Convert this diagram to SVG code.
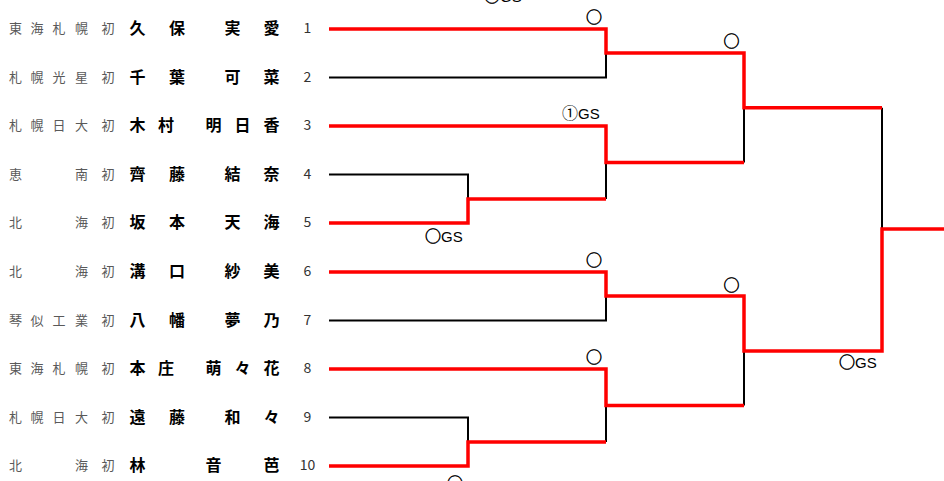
<svg xmlns="http://www.w3.org/2000/svg" width="944" height="481" viewBox="0 0 944 481">
<style>
.sc{font-family:"Noto Sans CJK JP",sans-serif;font-size:13px;fill:#595959;text-anchor:middle}
.nm{font-family:"Noto Sans CJK JP",sans-serif;font-size:16px;font-weight:bold;fill:#000;text-anchor:middle}
.no{font-family:"Noto Sans CJK JP",sans-serif;font-size:14px;fill:#333;text-anchor:middle}
.lb{font-family:"Noto Sans CJK JP",sans-serif;font-size:16px;fill:#000}
.ci{stroke:#000;stroke-width:0.5}
.gs{font-family:"Liberation Sans",sans-serif;font-size:15px}
.bk{fill:none;stroke:#000;stroke-width:2}
.rd{fill:none;stroke:#ff0000;stroke-width:3.5}
</style>
<rect width="944" height="481" fill="#fff"/>
<g id="p1"><text class="sc" x="15.5 37 59 81.5 108" y="33">東海札幌初</text><text class="nm" x="137.5 177 232.5 271.5" y="34">久保実愛</text><text class="no" x="307.5" y="33">1</text></g>
<g id="p2"><text class="sc" x="15.5 37 59 81.5 108" y="81.5">札幌光星初</text><text class="nm" x="137.5 177 232.5 271.5" y="82.5">千葉可菜</text><text class="no" x="307.5" y="81.5">2</text></g>
<g id="p3"><text class="sc" x="15.5 37 59 81.5 108" y="130">札幌日大初</text><text class="nm" x="137.5 166 213.5 242.5 271.5" y="131">木村明日香</text><text class="no" x="307.5" y="130">3</text></g>
<g id="p4"><text class="sc" x="15.5 81.5 108" y="178.5">恵南初</text><text class="nm" x="137.5 177 232.5 271.5" y="179.5">齊藤結奈</text><text class="no" x="307.5" y="178.5">4</text></g>
<g id="p5"><text class="sc" x="15.5 81.5 108" y="227">北海初</text><text class="nm" x="137.5 177 232.5 271.5" y="228">坂本天海</text><text class="no" x="307.5" y="227">5</text></g>
<g id="p6"><text class="sc" x="15.5 81.5 108" y="276">北海初</text><text class="nm" x="137.5 177 232.5 271.5" y="277">溝口紗美</text><text class="no" x="307.5" y="276">6</text></g>
<g id="p7"><text class="sc" x="15.5 37 59 81.5 108" y="324.5">琴似工業初</text><text class="nm" x="137.5 177 232.5 271.5" y="325.5">八幡夢乃</text><text class="no" x="307.5" y="324.5">7</text></g>
<g id="p8"><text class="sc" x="15.5 37 59 81.5 108" y="373">東海札幌初</text><text class="nm" x="137.5 166 213.5 242.5 271.5" y="374">本庄萌々花</text><text class="no" x="307.5" y="373">8</text></g>
<g id="p9"><text class="sc" x="15.5 37 59 81.5 108" y="421.5">札幌日大初</text><text class="nm" x="137.5 177 232.5 271.5" y="422.5">遠藤和々</text><text class="no" x="307.5" y="421.5">9</text></g>
<g id="p10"><text class="sc" x="15.5 81.5 108" y="470">北海初</text><text class="nm" x="137.5 213.5 271.5" y="471">林音芭</text><text class="no" x="307.5" y="470">10</text></g>
<g id="connectors">
<path class="bk" d="M329,77.5H606V53"/>
<path class="bk" d="M329,174.5H468V199"/>
<path class="bk" d="M606,162.5V199"/>
<path class="bk" d="M744,107.75V162.5"/>
<path class="bk" d="M882,107.75V229"/>
<path class="bk" d="M329,320.5H606V296"/>
<path class="bk" d="M329,417.5H468V442"/>
<path class="bk" d="M606,405.5V442"/>
<path class="bk" d="M744,351V405.5"/>
<path class="rd" d="M329,29H606V53H744V107.75H882"/>
<path class="rd" d="M329,126H606V162.5H744"/>
<path class="rd" d="M329,223H468V199H606"/>
<path class="rd" d="M329,272H606V296H744V351H882V229H944"/>
<path class="rd" d="M329,369H606V405.5H744"/>
<path class="rd" d="M329,466H468V442H606"/>
</g>
<g id="labels">
<text class="lb ci" x="586" y="23">○</text>
<text class="lb ci" x="723.5" y="47">○</text>
<text class="lb" x="562" y="119">①<tspan class="gs">GS</tspan></text>
<text class="lb" x="425" y="242"><tspan class="ci">○</tspan><tspan class="gs">GS</tspan></text>
<text class="lb ci" x="586" y="266">○</text>
<text class="lb ci" x="723.5" y="291">○</text>
<text class="lb ci" x="586" y="363">○</text>
<text class="lb" x="839" y="368"><tspan class="ci">○</tspan><tspan class="gs">GS</tspan></text>
<text class="lb ci" x="447" y="489">○</text>
<text class="lb" x="484" y="1.5"><tspan class="ci">○</tspan><tspan class="gs">GS</tspan></text>
</g>
</svg>
